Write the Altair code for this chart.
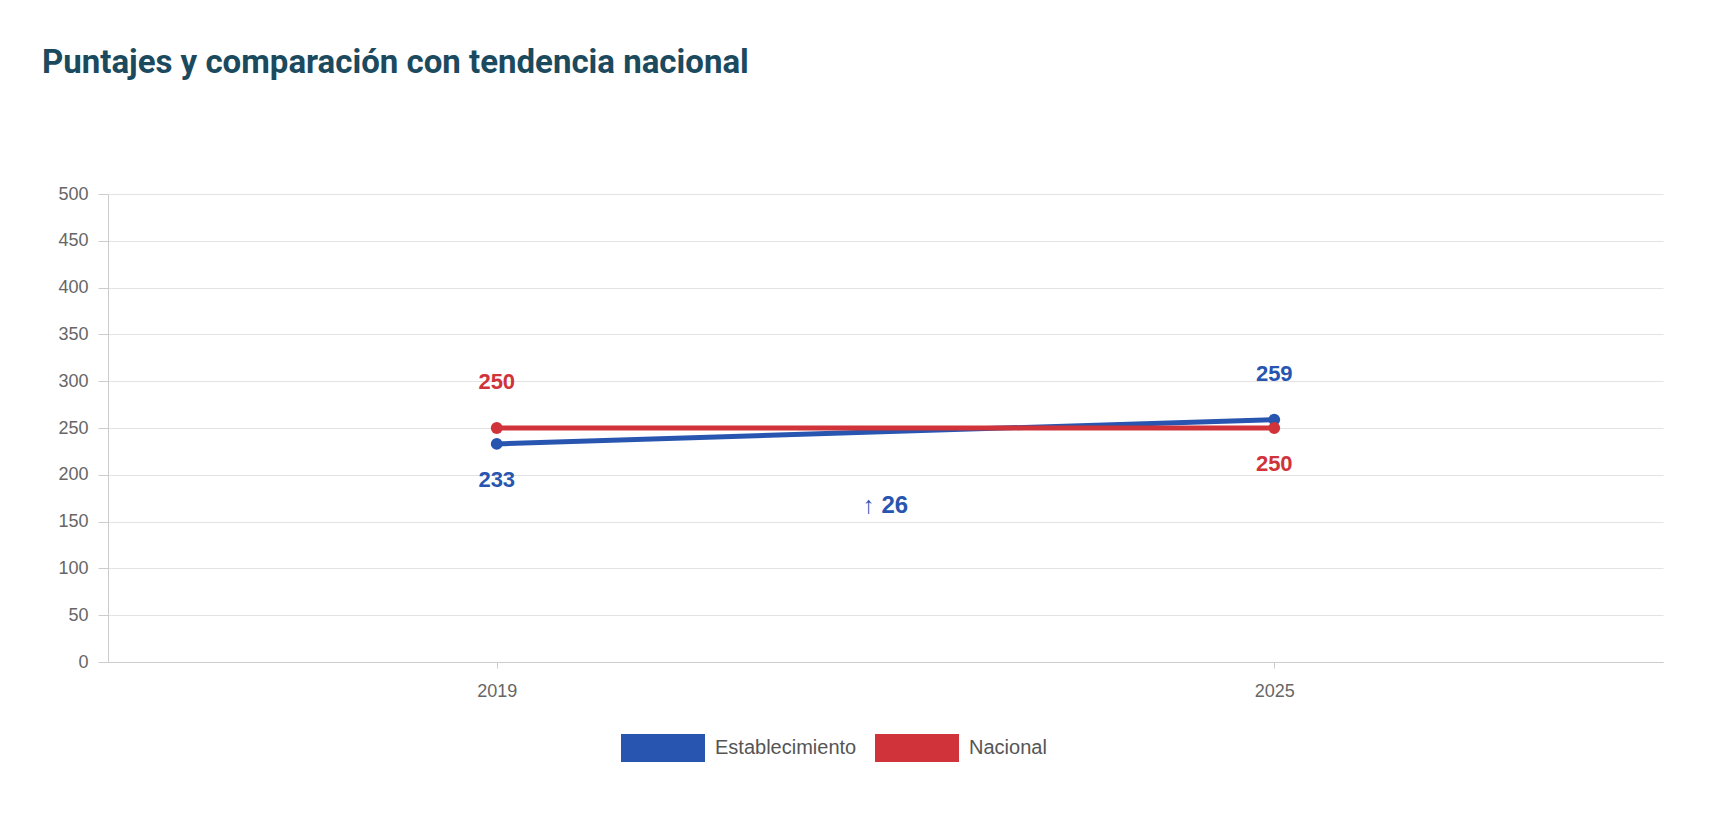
import altair as alt
import pandas as pd

years = ["2019", "2025"]
establecimiento = [233, 259]
nacional = [250, 250]
series = ["Establecimiento", "Nacional"]
colors = ["#2855b0", "#d0343a"]

df = pd.DataFrame({
    "year": years * 2,
    "score": establecimiento + nacional,
    "serie": [series[0]] * 2 + [series[1]] * 2,
})
diff = pd.DataFrame({"txt": ["↑ " + str(establecimiento[1] - establecimiento[0])], "y": [167]})

W, H = 1555, 468
FONT = "Liberation Sans"

x = alt.X("year:N", scale=alt.Scale(type="point", padding=0.5),
          axis=alt.Axis(title=None, labelAngle=0, labelFontSize=18, labelColor="#666",
                        labelPadding=14, domainColor="#ccc", tickColor="#ccc", tickSize=6, grid=False))
y = alt.Y("score:Q", scale=alt.Scale(domain=[0, 500]),
          axis=alt.Axis(title=None, values=list(range(0, 501, 50)), labelFontSize=18,
                        labelColor="#666", gridColor="#e3e3e3", domainColor="#ccc",
                        tickColor="#ccc", tickSize=10, labelPadding=10))
color = alt.Color("serie:N", scale=alt.Scale(domain=series, range=colors),
                  legend=alt.Legend(title=None, orient="none", direction="horizontal",
                                    legendX=541, legendY=540, labelFontSize=20, labelColor="#555",
                                    symbolType="M-3,-1L3,-1L3,1L-3,1Z", symbolSize=784,
                                    symbolStrokeWidth=0, symbolOpacity=1, columnPadding=18,
                                    labelOffset=38))

base = alt.Chart(df).encode(x=x, y=y, color=color)
lines = base.mark_line(strokeWidth=5, point=alt.OverlayMarkDef(size=140, filled=True, opacity=1))

def lab(serie, year, dy):
    return alt.Chart(df).transform_filter(
        (alt.datum.serie == serie) & (alt.datum.year == year)
    ).mark_text(fontSize=22, fontWeight="bold", dy=dy, font=FONT).encode(
        x=x, y=y, text="score:Q", color=alt.Color("serie:N", scale=alt.Scale(domain=series, range=colors), legend=None))

labels = [lab("Nacional", "2019", -46), lab("Establecimiento", "2019", 36),
          lab("Establecimiento", "2025", -46), lab("Nacional", "2025", 36)]

diff_txt = alt.Chart(diff).mark_text(fontSize=24, fontWeight="bold", color="#2855b0", font=FONT).encode(
    x=alt.value(W / 2), y=alt.Y("y:Q"), text="txt:N")

chart = alt.layer(lines, *labels, diff_txt).properties(
    width=W, height=H,
    autosize=alt.AutoSizeParams(type="none"),
    padding={"left": 100, "top": 186, "right": 40, "bottom": 130},
    background="white",
    title=alt.Title("Puntajes y comparación con tendencia nacional", anchor="start", dx=-16,
                    offset=105, fontSize=33, fontWeight="bold", color="#1b4a5e", font="Roboto"),
).configure_view(stroke=None).configure_axis(labelFont=FONT).configure_legend(labelFont=FONT)

chart.save("out.html", embed_options={"renderer": "svg", "actions": False})
